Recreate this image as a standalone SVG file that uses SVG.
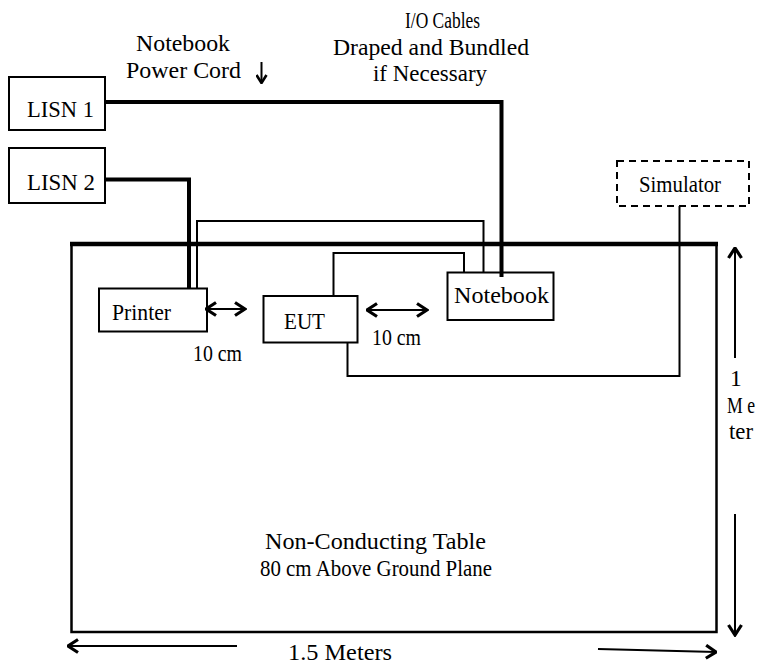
<svg xmlns="http://www.w3.org/2000/svg" width="765" height="664" viewBox="0 0 765 664">
<defs>
<style>
text{font-family:"Liberation Serif","Times New Roman",serif;font-size:23.5px;fill:#000}
.box{fill:#fff;stroke:#000;stroke-width:2}
.dash{fill:#fff;stroke:#000;stroke-width:2;stroke-dasharray:7,5}
.thick{fill:none;stroke:#000;stroke-width:4}
.thin{fill:none;stroke:#000;stroke-width:2}
.arr{fill:none;stroke:#000;stroke-width:2}
</style>
<marker id="head" markerUnits="userSpaceOnUse" viewBox="0 0 13 16" refX="11.5" refY="8" markerWidth="13" markerHeight="16" orient="auto-start-reverse">
<path d="M1.5,1.5 L11.5,8 L1.5,14.5" fill="none" stroke="#000" stroke-width="3.2"/>
</marker>
<marker id="small" markerUnits="userSpaceOnUse" viewBox="0 0 10 12" refX="9" refY="6" markerWidth="10" markerHeight="12" orient="auto">
<path d="M1,1 L9,6 L1,11" fill="none" stroke="#000" stroke-width="2.6"/>
</marker>
</defs>

<g id="table">
<rect x="71.5" y="244" width="645" height="388" fill="none" stroke="#000" stroke-width="2.5"/>
<line x1="70" y1="244" x2="718" y2="244" stroke="#000" stroke-width="4.5"/>
<text x="265" y="549" textLength="221" lengthAdjust="spacingAndGlyphs">Non-Conducting Table</text>
<text x="260" y="576" textLength="232" lengthAdjust="spacingAndGlyphs">80 cm Above Ground Plane</text>
</g>

<g id="connectors">
<polyline class="thick" points="105,102 501.5,102 501.5,277"/>
<polyline class="thick" points="105,179.5 189,179.5 189,289"/>
<polyline class="thin" points="197,288 197,221 483.5,221 483.5,272"/>
<polyline class="thin" points="333.5,296 333.5,253 464,253 464,272"/>
<polyline class="thin" points="347.5,343 347.5,376 679.5,376 679.5,206"/>
</g>

<g id="lisn1">
<rect class="box" x="9" y="77" width="96" height="53"/>
<text x="27" y="117" textLength="67" lengthAdjust="spacingAndGlyphs">LISN 1</text>
</g>
<g id="lisn2">
<rect class="box" x="9" y="148" width="96" height="55"/>
<text x="27" y="190" textLength="68" lengthAdjust="spacingAndGlyphs">LISN 2</text>
</g>
<g id="simulator">
<rect class="dash" x="617" y="161" width="132" height="45"/>
<text x="639" y="192" textLength="82" lengthAdjust="spacingAndGlyphs">Simulator</text>
</g>
<g id="printer">
<rect x="99" y="288.5" width="108" height="43" fill="none" stroke="#000" stroke-width="2"/>
<text x="112" y="320" textLength="59" lengthAdjust="spacingAndGlyphs">Printer</text>
</g>
<g id="eut">
<rect class="box" x="263.5" y="296" width="94" height="46.5"/>
<text x="284" y="328.5" textLength="41" lengthAdjust="spacingAndGlyphs">EUT</text>
</g>
<g id="notebook">
<rect x="447.5" y="272.5" width="106" height="47.5" fill="none" stroke="#000" stroke-width="2"/>
<text x="454" y="303" textLength="95" lengthAdjust="spacingAndGlyphs">Notebook</text>
</g>

<g id="labels">
<text x="136" y="51" textLength="94" lengthAdjust="spacingAndGlyphs">Notebook</text>
<text x="126" y="78" textLength="115" lengthAdjust="spacingAndGlyphs">Power Cord</text>
<text x="405" y="28" textLength="75" lengthAdjust="spacingAndGlyphs">I/O Cables</text>
<text x="333" y="54.5" textLength="196" lengthAdjust="spacingAndGlyphs">Draped and Bundled</text>
<text x="373" y="80.5" textLength="114" lengthAdjust="spacingAndGlyphs">if Necessary</text>
<text x="193" y="361" textLength="49" lengthAdjust="spacingAndGlyphs">10 cm</text>
<text x="372" y="345" textLength="49" lengthAdjust="spacingAndGlyphs">10 cm</text>
<text x="730" y="386">1</text>
<text x="727" y="413" textLength="28" lengthAdjust="spacingAndGlyphs">M e</text>
<text x="729" y="439" textLength="24" lengthAdjust="spacingAndGlyphs">ter</text>
<text x="288" y="660" textLength="104" lengthAdjust="spacingAndGlyphs">1.5 Meters</text>
</g>

<g id="arrows">
<line class="arr" x1="261.5" y1="62" x2="261.5" y2="83" marker-end="url(#small)"/>
<line class="arr" x1="206" y1="309" x2="245" y2="309" marker-start="url(#head)" marker-end="url(#head)"/>
<line class="arr" x1="367" y1="310" x2="427" y2="310" marker-start="url(#head)" marker-end="url(#head)"/>
<line class="arr" x1="735" y1="358" x2="735" y2="248" marker-end="url(#head)"/>
<line class="arr" x1="735" y1="514" x2="735" y2="635" marker-end="url(#head)"/>
<line class="arr" x1="237" y1="646" x2="68" y2="646" marker-end="url(#head)"/>
<line class="arr" x1="598" y1="649" x2="716" y2="652" marker-end="url(#head)"/>
</g>
</svg>
